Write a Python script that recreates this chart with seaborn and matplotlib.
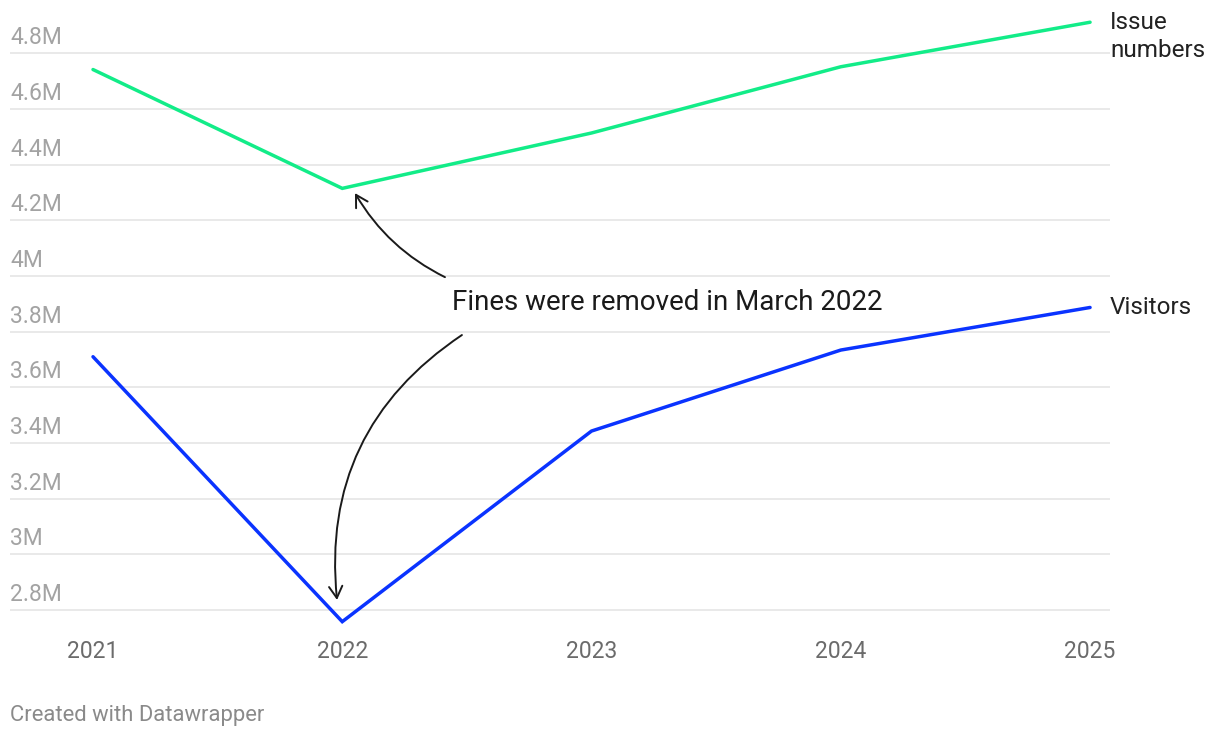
import matplotlib.pyplot as plt
import matplotlib.transforms as mtransforms
import seaborn as sns
import pandas as pd

# Data (millions)
years = [2021, 2022, 2023, 2024, 2025]
issue_numbers = [4.742, 4.315, 4.514, 4.752, 4.912]
visitors = [3.710, 2.758, 3.443, 3.734, 3.887]
series_names = ["Issue numbers", "Visitors"]
series_colors = ["#12ec88", "#0a33ff"]
y_ticks = [2.8, 3.0, 3.2, 3.4, 3.6, 3.8, 4.0, 4.2, 4.4, 4.6, 4.8]
y_tick_labels = ["2.8M", "3M", "3.2M", "3.4M", "3.6M", "3.8M", "4M", "4.2M", "4.4M", "4.6M", "4.8M"]
note = "Fines were removed in March 2022"
credit = "Created with Datawrapper"

df = pd.DataFrame({
    "year": years * 2,
    "value": issue_numbers + visitors,
    "series": [series_names[0]] * len(years) + [series_names[1]] * len(years),
})

sns.set_theme(style="white")
plt.rcParams["font.family"] = ["Roboto", "DejaVu Sans"]

fig = plt.figure(figsize=(12.2, 7.38), dpi=100)
ax = fig.add_axes([10 / 1220, 1 - 625 / 738, 1100 / 1220, 610 / 738])

sns.lineplot(data=df, x="year", y="value", hue="series", palette=dict(zip(series_names, series_colors)),
             linewidth=2.5, ax=ax, legend=False)
for line in ax.get_lines():
    line.set_clip_on(False)
    line.set_solid_joinstyle("miter")

ax.set_xlim(2020.667, 2025.080)
ax.set_ylim(2.746, 4.938)

# gridlines
ax.set_yticks(y_ticks)
ax.set_yticklabels([])
ax.grid(axis="y", color="#e3e3e3", linewidth=1.1)
ax.grid(axis="x", visible=False)
ax.set_axisbelow(True)
for s in ax.spines.values():
    s.set_visible(False)
ax.tick_params(axis="both", length=0)

# y labels sit above their gridlines, left aligned
for v, lab in zip(y_ticks, y_tick_labels):
    ax.annotate(lab, xy=(0, v), xycoords=("axes fraction", "data"), xytext=(0, 6.5),
                textcoords="offset points", ha="left", va="baseline", fontsize=16.5, color="#a3a3a3")

ax.set_xticks(years)
ax.set_xticklabels([str(y) for y in years], fontsize=16.5, color="#6b6b6b")
ax.tick_params(axis="x", pad=11)
ax.set_xlabel("")
ax.set_ylabel("")

# series labels at the right end
blend = mtransforms.blended_transform_factory(ax.transAxes, ax.transData)
ax.text(1.0, 4.952, "Issue\nnumbers", transform=blend,
        ha="left", va="top", fontsize=17.5, color="#222222", linespacing=1.25, clip_on=False)
ax.text(1.0, visitors[-1], series_names[1], transform=blend,
        ha="left", va="center", fontsize=17.5, color="#222222", clip_on=False)

# annotation
ax.text(2022.439, 3.906, note, ha="left", va="center", fontsize=20, color="#1a1a1a")
arrow_kw = dict(arrowstyle="->,head_length=0.42,head_width=0.24", color="#1a1a1a", lw=1.4,
                shrinkA=0, shrinkB=0, mutation_scale=20)
ax.annotate("", xy=(2022.051, 4.298), xytext=(2022.412, 3.996),
            arrowprops=dict(connectionstyle="arc3,rad=-0.15", **arrow_kw))
ax.annotate("", xy=(2021.979, 2.836), xytext=(2022.480, 3.788),
            arrowprops=dict(connectionstyle="arc3,rad=0.3", **arrow_kw))

fig.text(10 / 1220, 1 - 716 / 738, credit, ha="left", va="center", fontsize=15.8, color="#8a8a8a")

fig.savefig("out.png", dpi=100, facecolor="white")
